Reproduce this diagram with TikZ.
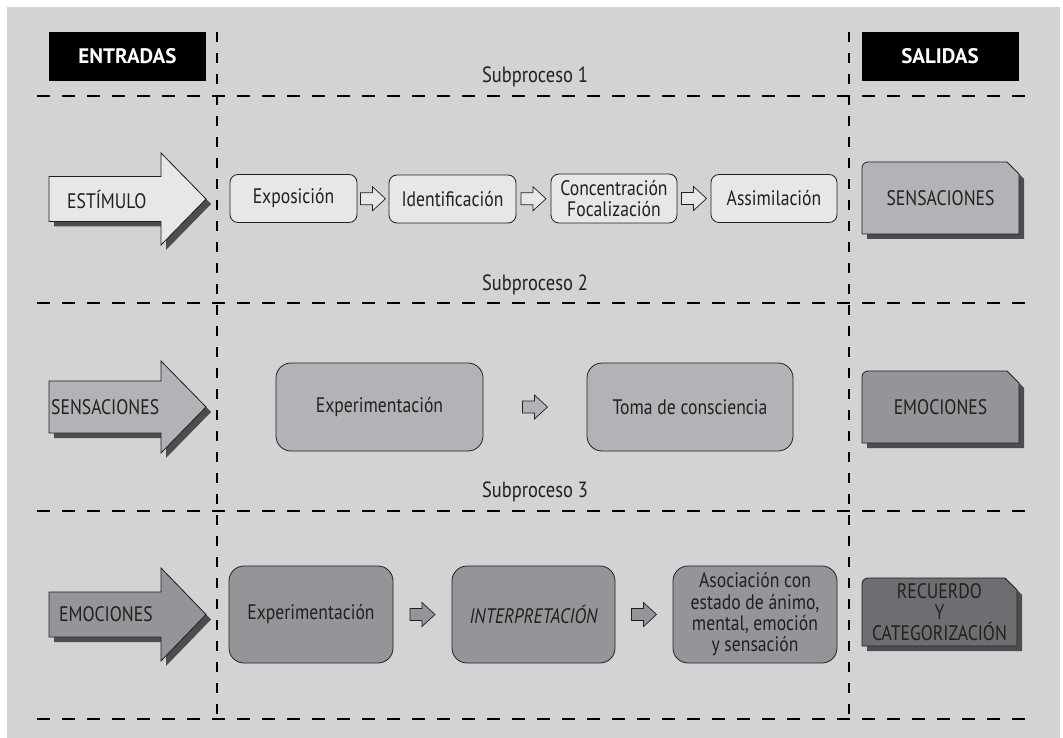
\documentclass[tikz,border=0pt]{standalone}
\usepackage{fontspec}
\setmainfont{PT Sans}[FakeStretch=0.84]
\newfontfamily\hdrfont{PT Sans}
\usetikzlibrary{calc}
\definecolor{panel}{HTML}{D1D3D4}
\definecolor{fillA}{HTML}{E6E7E8}
\definecolor{fillB}{HTML}{B1B3B6}
\definecolor{fillC}{HTML}{939598}
\definecolor{fillD}{HTML}{6D6E71}
\definecolor{shadowcol}{HTML}{4D4D4F}
\definecolor{ink}{HTML}{231F20}
\tikzset{
  hdr/.style={fill=black, text=white, minimum width=157pt, minimum height=49pt, inner sep=0pt, font=\hdrfont\bfseries\fontsize{21}{23}\selectfont},
  lbl/.style={text=ink, inner sep=0pt, font=\fontsize{21}{21.3}\selectfont},
  sublbl/.style={text=ink, inner sep=0pt, font=\fontsize{22}{24}\selectfont},
  box/.style={draw=ink, line width=0.8pt, align=center, inner sep=0pt, text=ink, font=\fontsize{21}{21.3}\selectfont},
  smallbox/.style={box, rounded corners=8pt, fill=fillA},
  bigbox/.style={box, rounded corners=15pt},
  dashline/.style={line width=2.9pt, dash pattern=on 13pt off 12pt, black},
  vdashline/.style={line width=2.9pt, dash pattern=on 10pt off 11pt, black},
  pics/smallarrow/.style={code={
    \draw[ink, line width=0.7pt, fill=#1] (-12.5,-6) -- (-0.5,-6) -- (-0.5,-12) -- (12.5,0) -- (-0.5,12) -- (-0.5,6) -- (-12.5,6) -- cycle;}},
  pics/bigarrow/.style n args={3}{code={
    \fill[shadowcol] (5,5-#1) -- (117,5-#1) -- (117,5-#2) -- (162,5) -- (117,5+#2) -- (117,5+#1) -- (5,5+#1) -- cycle;
    \draw[ink, line width=0.8pt, fill=#3] (0,-#1) -- (112,-#1) -- (112,-#2) -- (157,0) -- (112,#2) -- (112,#1) -- (0,#1) -- cycle;}}
}
\newcommand\outshape[4]{(#1,#4) [rounded corners=6pt]-- (#1,#2) [sharp corners]-- (#3-12,#2) -- (#3,#2+12) -- (#3,#4) -- cycle}
\newcommand\outbox[5]{%
  \fill[shadowcol, shift={(5pt,-5pt)}] \outshape{#1}{#2}{#3}{#4};
  \draw[ink, line width=0.8pt, fill=#5] \outshape{#1}{#2}{#3}{#4};
}
\begin{document}
\begin{tikzpicture}[x=1pt, y=-1pt]
\useasboundingbox (0,0) rectangle (1063,738);
\fill[white] (0,0) rectangle (1063,738);
\fill[panel] (7,7) rectangle (1060,738);

% headers
\node[hdr] (entradas) at (127.5,56.5) {ENTRADAS};
\node[hdr] (salidas) at (940,56.5) {SALIDAS};

% dashed grid
\draw[dashline] (37,96) -- (1030,96);
\draw[dashline] (37,303) -- (1030,303);
\draw[dashline] (37,511) -- (1030,511);
\draw[dashline] (37,719) -- (1030,719);
\draw[vdashline] (217,32) -- (217,719);
\draw[vdashline] (849,32) -- (849,719);

% subprocess labels
\node[sublbl] (sp1) at (535,77) {Subproceso 1};
\node[sublbl] (sp2) at (535,285) {Subproceso 2};
\node[sublbl] (sp3) at (535,492) {Subproceso 3};

% Row 1
\pic at (49,199) {bigarrow={22.5}{46}{fillA}};
\node[lbl, anchor=west] (in1) at (67,199) {ESTÍMULO};
\node[smallbox, minimum width=127pt, minimum height=48pt] (a1) at (293.5,198.5) {Exposición};
\node[smallbox, minimum width=127pt, minimum height=48pt] (a2) at (452.5,199) {Identificación};
\node[smallbox, minimum width=126pt, minimum height=49pt] (a3) at (614,198.5) {Concentración\\Focalización};
\node[smallbox, minimum width=126pt, minimum height=48pt] (a4) at (774,198.5) {Assimilación};
\pic at ($(a1.east)!0.5!(a2.west)$) {smallarrow=fillA};
\pic at ($(a2.east)!0.5!(a3.west)$) {smallarrow=fillA};
\pic at ($(a3.east)!0.5!(a4.west)$) {smallarrow=fillA};
\outbox{862}{162}{1019}{234}{fillB}
\node[lbl] (out1) at (940.5,198) {SENSACIONES};

% Row 2
\pic at (49,407) {bigarrow={26}{46}{fillB}};
\node[lbl, anchor=west] (in2) at (51,407) {SENSACIONES};
\node[bigbox, fill=fillB, minimum width=207pt, minimum height=88pt] (b1) at (379.5,407) {Experimentación};
\node[bigbox, fill=fillB, minimum width=206pt, minimum height=88pt] (b2) at (690,407) {Toma de consciencia};
\pic at ($(b1.east)!0.5!(b2.west)$) {smallarrow=fillB};
\outbox{862}{371}{1019}{443}{fillC}
\node[lbl] (out2) at (940.5,407) {EMOCIONES};

% Row 3
\pic at (49,614.5) {bigarrow={22.5}{46.5}{fillC}};
\node[lbl, anchor=west] (in3) at (59,614.5) {EMOCIONES};
\node[bigbox, fill=fillC, minimum width=164pt, minimum height=97pt] (c1) at (311,614.5) {Experimentación};
\node[bigbox, fill=fillC, minimum width=163pt, minimum height=97pt] (c2) at (533.5,614.5) {\itshape INTERPRETACIÓN};
\node[bigbox, fill=fillC, minimum width=164pt, minimum height=97pt] (c3) at (755,614.5) {Asociación con\\estado de ánimo,\\mental, emoción\\y sensación};
\pic at ($(c1.east)!0.5!(c2.west)$) {smallarrow=fillC};
\pic at ($(c2.east)!0.5!(c3.west)$) {smallarrow=fillC};
\outbox{862}{578}{1017}{646}{fillD}
\node[lbl, align=center] (out3) at (939.5,612) {RECUERDO\\Y\\CATEGORIZACIÓN};
\end{tikzpicture}
\end{document}
